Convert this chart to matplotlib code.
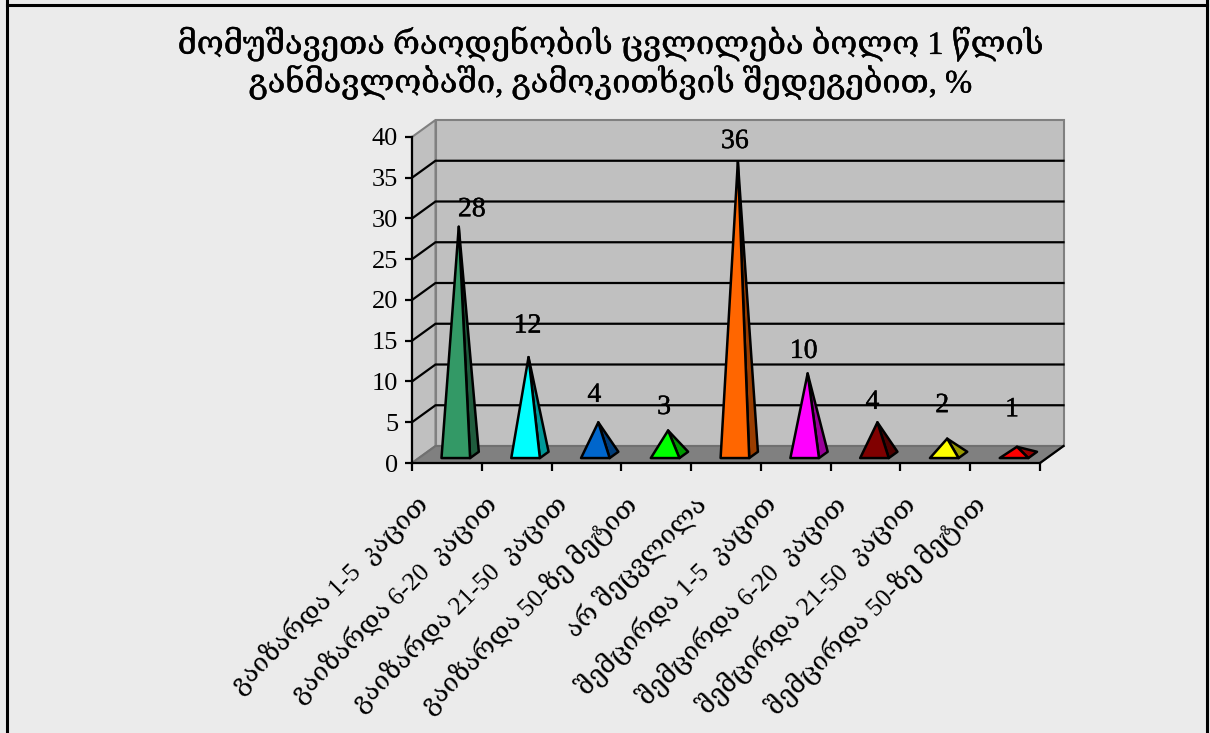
import matplotlib
matplotlib.use("Agg")
import matplotlib.pyplot as plt
import matplotlib.patheffects as pe
from matplotlib.lines import Line2D
from matplotlib.patches import Polygon
from matplotlib.transforms import ScaledTranslation

plt.rcParams['font.family'] = ['Liberation Serif', 'DejaVu Serif']

title = ("მომუშავეთა რაოდენობის ცვლილება ბოლო 1 წლის\n"
         "განმავლობაში, გამოკითხვის შედეგებით, %")
categories = ["გაიზარდა 1-5  კაცით", "გაიზარდა 6-20  კაცით",
              "გაიზარდა 21-50  კაცით", "გაიზარდა 50-ზე მეტით",
              "არ შეცვლილა", "შემცირდა 1-5  კაცით", "შემცირდა 6-20  კაცით",
              "შემცირდა 21-50  კაცით", "შემცირდა 50-ზე მეტით"]
values = [28, 12, 4, 3, 36, 10, 4, 2, 1]
front_colors = ['#339966', '#00ffff', '#0066cc', '#00ff00', '#ff6600',
                '#ff00ff', '#800000', '#ffff00', '#ff0000']
side_colors = ['#1f5c3d', '#009999', '#003d7a', '#009900', '#993d00',
               '#990099', '#4d0000', '#999900', '#990000']
# label shift from the apex, in pixels
label_dx = [13, -1, -4, -4, -3, -4, -5, -5, -5]
label_dy = [17, 31, 27, 23, 20, 22, 20, 33, 37]

W, H = 1210, 733
LEFT, RIGHT, BOTTOM, TOP = 412, 1040, 463, 137
fig = plt.figure(figsize=(W / 100, H / 100), dpi=100, facecolor='#ebebeb')
ax = fig.add_axes([LEFT / W, 1 - BOTTOM / H, (RIGHT - LEFT) / W, (BOTTOM - TOP) / H])
ax.set_xlim(0, len(values))
ax.set_ylim(0, 40)
ax.patch.set_visible(False)

# depth of the 3d box in data units
dx = 23.5 / ((RIGHT - LEFT) / len(values))
dy = 17 / ((BOTTOM - TOP) / 40)


def project(x, y, depth):
    return (x + depth * dx, y + depth * dy)


n = len(values)
# walls and floor
ax.add_patch(Polygon([project(0, 0, 1), project(n, 0, 1), project(n, 40, 1), project(0, 40, 1)],
                     fc='#c0c0c0', ec='#808080', lw=1.5, clip_on=False, zorder=1))
ax.add_patch(Polygon([project(0, 0, 0), project(0, 0, 1), project(0, 40, 1), project(0, 40, 0)],
                     fc='#c0c0c0', ec='#808080', lw=1.5, clip_on=False, zorder=1))
ax.add_patch(Polygon([project(0, 0, 0), project(n, 0, 0), project(n, 0, 1), project(0, 0, 1)],
                     fc='#808080', ec='#707070', lw=1.5, clip_on=False, zorder=1))
ax.plot([n, n + dx], [0, dy], color='k', lw=1.6, clip_on=False, zorder=2)

# gridlines on side wall and back wall
for v in range(5, 40, 5):
    ax.plot([0, dx, n + dx], [v, v + dy, v + dy], color='k', lw=1.6,
            clip_on=False, zorder=2, solid_joinstyle='miter')

# pyramids
half = 0.205
d0, d1 = 0.29, 0.66
for i, v in enumerate(values):
    c = i + 0.53
    apex = project(c - 0.02, v, (d0 + d1) / 2)
    fl = project(c - half, 0, d0)
    fr = project(c + half, 0, d0)
    br = project(c + half, 0, d1)
    ax.add_patch(Polygon([fr, br, apex], fc=side_colors[i], ec='k', lw=1.8,
                         joinstyle='round', clip_on=False, zorder=3))
    ax.add_patch(Polygon([fl, fr, apex], fc=front_colors[i], ec='k', lw=1.8,
                         joinstyle='round', clip_on=False, zorder=4))
    ax.annotate(str(v), xy=apex, xytext=(label_dx[i] * 0.72, label_dy[i] * 0.72),
                textcoords='offset points', ha='center', va='center',
                fontsize=20, color='k', zorder=5,
                path_effects=[pe.withStroke(linewidth=0.3, foreground='k')])

for side in ['top', 'right']:
    ax.spines[side].set_visible(False)
for side in ['left', 'bottom']:
    ax.spines[side].set_linewidth(1.6)
    ax.spines[side].set_zorder(6)

ax.set_yticks(range(0, 41, 5))
ax.tick_params(axis='y', labelsize=19, length=5, width=1.6, pad=5)
ax.set_xticks(range(n + 1))
ax.set_xticklabels([])
ax.tick_params(axis='x', which='major', length=6, width=1.6)

# rotated labels hang from the category centres
ax.set_xticks([i + 0.5 for i in range(n)], labels=categories, minor=True)
ax.tick_params(axis='x', which='minor', length=0, pad=20, labelsize=18.6)
shift = ScaledTranslation(-33 / 100, 0, fig.dpi_scale_trans)
for lab in ax.get_xticklabels(minor=True):
    lab.set_rotation(45)
    lab.set_rotation_mode('anchor')
    lab.set_ha('right')
    lab.set_va('top')
    lab.set_transform(lab.get_transform() + shift)

fig.text(610 / W, 1 - 63 / H, title, ha='center', va='center', fontsize=23.5,
         linespacing=1.106, color='k',
         path_effects=[pe.withStroke(linewidth=0.25, foreground='k')])

# outer frame, cut by the bottom of the picture
for xs, ys in [([7, 7], [0, 733]), ([1207, 1207], [0, 733]), ([7, 1207], [728.5, 728.5])]:
    fig.add_artist(Line2D([x / W for x in xs], [y / H for y in ys], color='k', lw=2.2))

fig.savefig('out.png', dpi=100, facecolor=fig.get_facecolor())
